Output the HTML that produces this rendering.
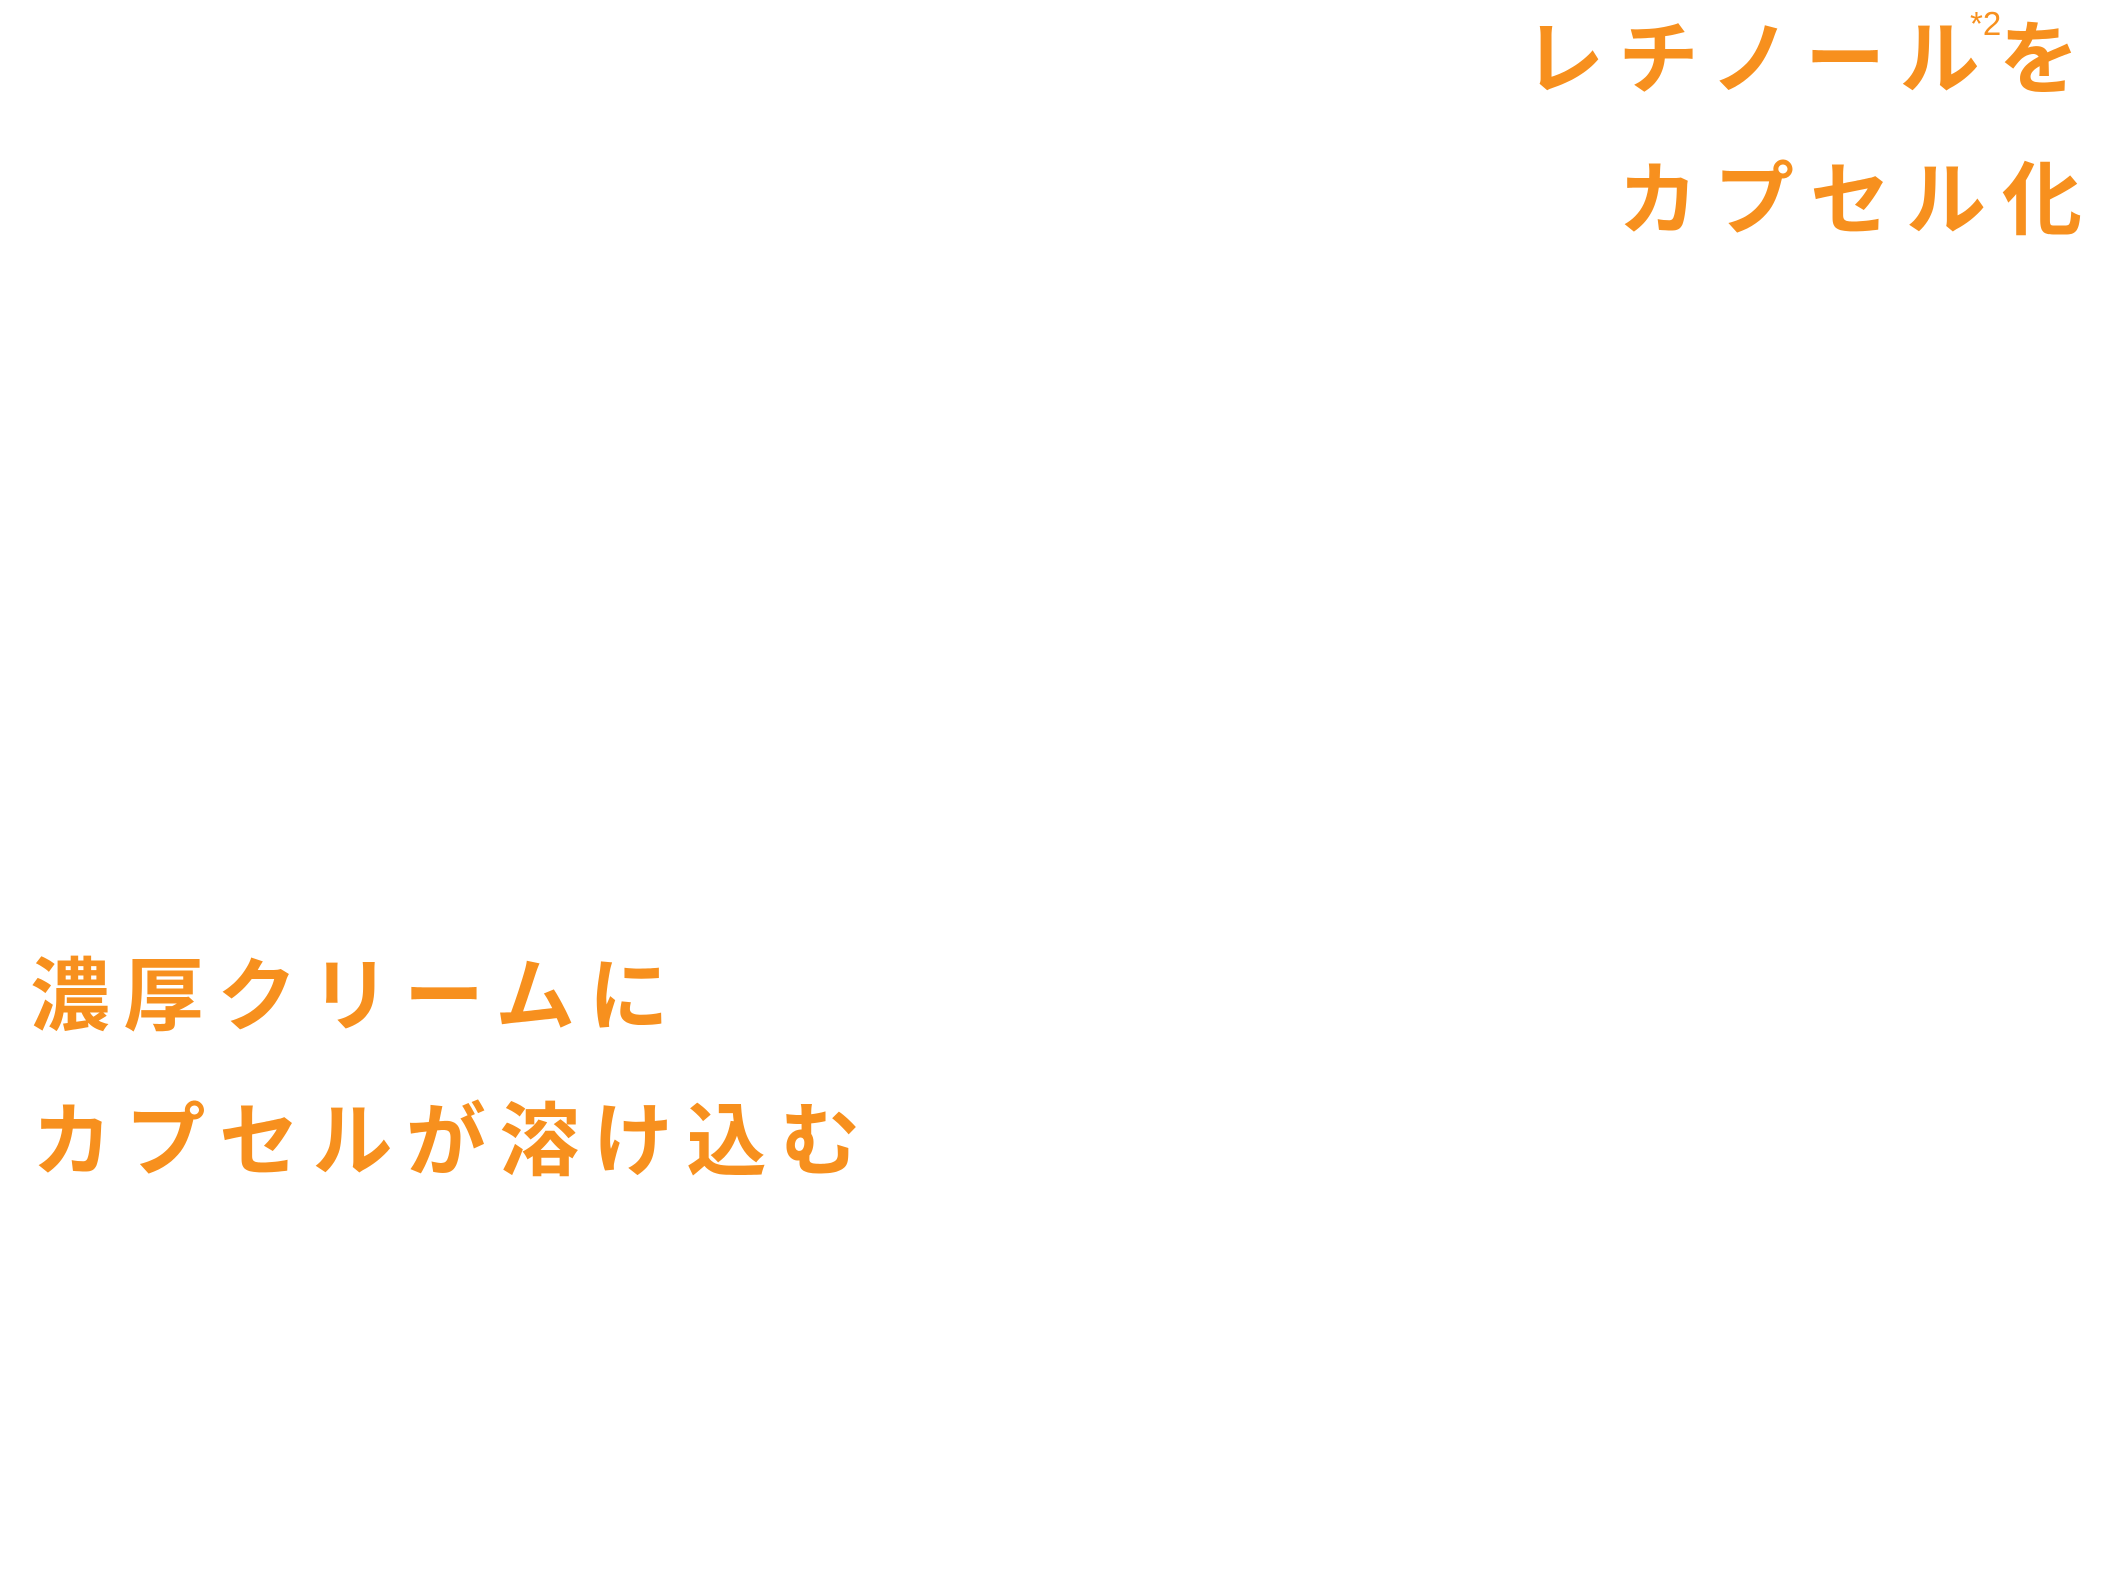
<!DOCTYPE html>
<html><head><meta charset="utf-8"><style>
html,body{margin:0;padding:0;background:#fff;width:2117px;height:1572px;overflow:hidden;position:relative}
.t{position:absolute;font-family:"Liberation Sans","Noto Sans CJK JP",sans-serif;font-weight:700;color:#f7901e;font-size:80px;line-height:1;white-space:nowrap}
.s{position:absolute;font-family:"Liberation Sans","Noto Sans CJK JP",sans-serif;color:#f7901e;font-size:33px;line-height:1}
</style></head><body>
<div class="t" style="left:1524px;top:20px;letter-spacing:14.5px">レチノール</div>
<div class="t" style="left:1999px;top:20px">を</div>
<div class="s" style="left:1970px;top:7px">*2</div>
<div class="t" style="left:1618px;top:161px;letter-spacing:16px">カプセル化</div>
<div class="t" style="left:30px;top:957px;letter-spacing:13.5px">濃厚クリームに</div>
<div class="t" style="left:32px;top:1102px;letter-spacing:13.5px">カプセルが溶け込む</div>
</body></html>
